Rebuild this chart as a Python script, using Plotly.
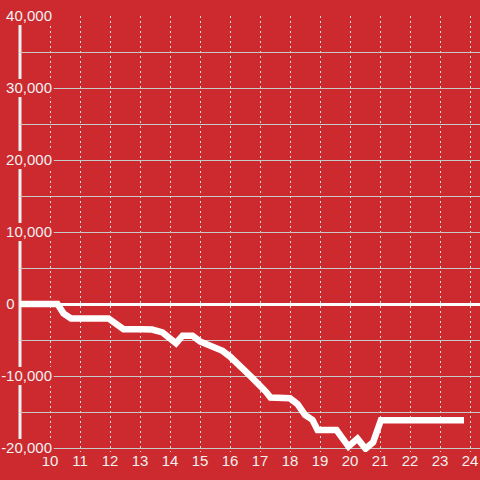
import plotly.graph_objects as go

# data: hour of day vs cumulative value
hours = [9.0, 10.25, 10.45, 10.7, 11.95, 12.45, 13.1, 13.4, 13.75, 14.2, 14.42, 14.75,
         15.0, 15.25, 15.5, 15.75, 16.0, 16.25, 16.5, 16.75, 17.0, 17.2, 17.35, 18.0,
         18.25, 18.5, 18.75, 18.92, 19.55, 19.95, 20.25, 20.52, 20.77, 21.03, 23.8]
values = [0, 0, -1300, -2000, -2000, -3500, -3500, -3550, -3950, -5450, -4400, -4400,
          -5200, -5600, -6100, -6500, -7300, -8200, -9300, -10300, -11250, -12200, -13000, -13100,
          -13900, -15400, -16100, -17500, -17500, -19800, -18700, -20100, -19200, -16150, -16150]

x_ticks = [10, 11, 12, 13, 14, 15, 16, 17, 18, 19, 20, 21, 22, 23, 24]
y_ticks = [-20000, -10000, 0, 10000, 20000, 30000, 40000]
y_ticktext = ["-20,000", "-10,000", "0" + "\u00a0" * 9, "10,000", "20,000", "30,000", "40,000"]

RED = "#cc2a2e"
FONT = "Liberation Sans, Arial, sans-serif"
mask = ", ".join(f"{RED} {dx}px {dy}px 0px" for dx in (-2, -1, 0, 1, 2) for dy in (-4, -2, 0, 2, 4))

fig = go.Figure()
fig.add_trace(go.Scatter(x=hours, y=values, mode="lines",
                         line=dict(color="white", width=6.5), hoverinfo="skip"))

fig.update_layout(
    width=480, height=480,
    margin=dict(l=20, r=0, t=16, b=28),
    paper_bgcolor=RED, plot_bgcolor=RED,
    showlegend=False,
    font=dict(family=FONT, size=15, color="#f0f0f0"),
    xaxis=dict(range=[9, 24.3333], tickvals=x_ticks, showgrid=True, automargin=False,
               gridcolor="#dddddd", gridwidth=1, griddash="2px,3px",
               zeroline=False, showline=False, ticks="", ticklabelstandoff=-2,
               tickfont=dict(family=FONT, size=15, color="#f0f0f0")),
    yaxis=dict(range=[-20556, 40000], tickvals=y_ticks, ticktext=y_ticktext,
               anchor="free", position=(52 - 20) / 460, automargin=False,
               showgrid=True, gridcolor="#c8c8c8", gridwidth=1,
               minor=dict(dtick=5000, tick0=0, showgrid=True, gridcolor="#c8c8c8", gridwidth=1),
               zeroline=True, zerolinecolor="white", zerolinewidth=3,
               showline=False, ticks="",
               tickfont=dict(family=FONT, size=15, color="#f0f0f0", shadow=mask)),
    shapes=[dict(type="line", xref="paper", yref="paper", x0=0, x1=0, y0=0, y1=1,
                 line=dict(color="#f2f2f2", width=3), layer="below")],
)

fig.write_html("out.html", config={"displayModeBar": False},
               post_script="document.body.style.margin='0';document.body.style.overflow='hidden';")
